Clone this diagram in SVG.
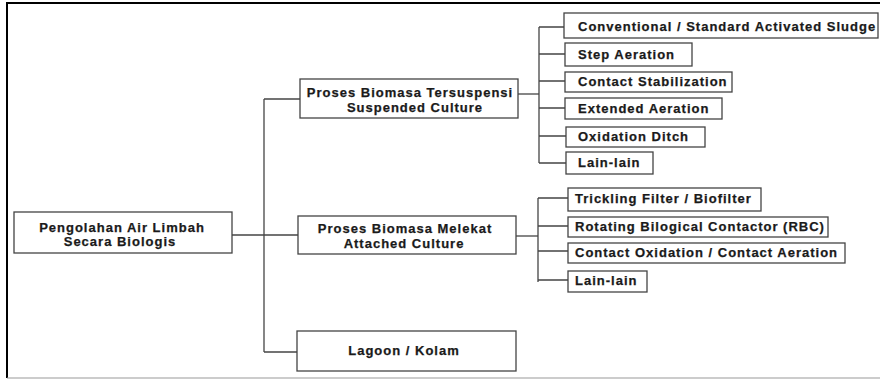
<svg xmlns="http://www.w3.org/2000/svg" width="880" height="379" viewBox="0 0 880 379">
<style>
.box{fill:#fff;stroke:#444;stroke-width:1.3}
.t{font-family:"Liberation Sans",Arial,sans-serif;font-weight:bold;font-size:13px;letter-spacing:1px;fill:#1a1a1a;stroke:#1a1a1a;stroke-width:0.25}
.c{text-anchor:middle}
.ln{stroke:#444;stroke-width:1.3;fill:none}
</style>
<rect x="0" y="0" width="880" height="379" fill="#fff"/>
<g id="frame">
<line x1="7" y1="3" x2="880" y2="3" stroke="#000" stroke-width="2"/>
<line x1="7" y1="2" x2="7" y2="378" stroke="#000" stroke-width="2"/>
<line x1="7" y1="378" x2="880" y2="378" stroke="#999" stroke-width="1.2"/>
</g>
<g id="connectors" class="ln">
<path d="M232 235H298"/>
<path d="M264 99V352"/>
<path d="M264 99H300"/>
<path d="M264 352H297"/>
<path d="M518 94H539"/>
<path d="M539 27V163"/>
<path d="M539 27H564M539 54H565M539 81H565M539 108H565M539 136H566M539 163H566"/>
<path d="M516 236H538"/>
<path d="M538 198V282"/>
<path d="M538 198H568M538 226H568M538 251H568M538 280H568"/>
</g>
<g id="root"><rect class="box" x="14" y="212" width="218" height="41"/>
<text class="t c" x="122" y="232">Pengolahan Air Limbah</text>
<text class="t c" x="120" y="246">Secara Biologis</text></g>
<g id="suspended"><rect class="box" x="300" y="79" width="218" height="39"/>
<text class="t c" x="410" y="97">Proses Biomasa Tersuspensi</text>
<text class="t c" x="415" y="112">Suspended Culture</text></g>
<g id="attached"><rect class="box" x="298" y="216" width="218" height="38"/>
<text class="t c" x="405" y="233">Proses Biomasa Melekat</text>
<text class="t c" x="404" y="248">Attached Culture</text></g>
<g id="lagoon"><rect class="box" x="297" y="331" width="219" height="40"/>
<text class="t c" x="404" y="355">Lagoon / Kolam</text></g>
<g id="s1"><rect class="box" x="564" y="13" width="314" height="25"/><text class="t" x="578" y="31">Conventional / Standard Activated Sludge</text></g>
<g id="s2"><rect class="box" x="565" y="43" width="127" height="23"/><text class="t" x="578" y="59">Step Aeration</text></g>
<g id="s3"><rect class="box" x="565" y="72" width="167" height="20"/><text class="t" x="578" y="86">Contact Stabilization</text></g>
<g id="s4"><rect class="box" x="565" y="98" width="157" height="21"/><text class="t" x="578" y="113">Extended Aeration</text></g>
<g id="s5"><rect class="box" x="566" y="127" width="139" height="20"/><text class="t" x="578" y="141">Oxidation Ditch</text></g>
<g id="s6"><rect class="box" x="566" y="152" width="87" height="22"/><text class="t" x="578" y="167">Lain-lain</text></g>
<g id="a1"><rect class="box" x="568" y="188" width="193" height="23"/><text class="t" x="575" y="203">Trickling Filter / Biofilter</text></g>
<g id="a2"><rect class="box" x="568" y="217" width="260" height="20"/><text class="t" x="575" y="231">Rotating Bilogical Contactor (RBC)</text></g>
<g id="a3"><rect class="box" x="568" y="243" width="277" height="20"/><text class="t" x="575" y="257">Contact Oxidation / Contact Aeration</text></g>
<g id="a4"><rect class="box" x="568" y="271" width="79" height="21"/><text class="t" x="575" y="285">Lain-lain</text></g>
</svg>
